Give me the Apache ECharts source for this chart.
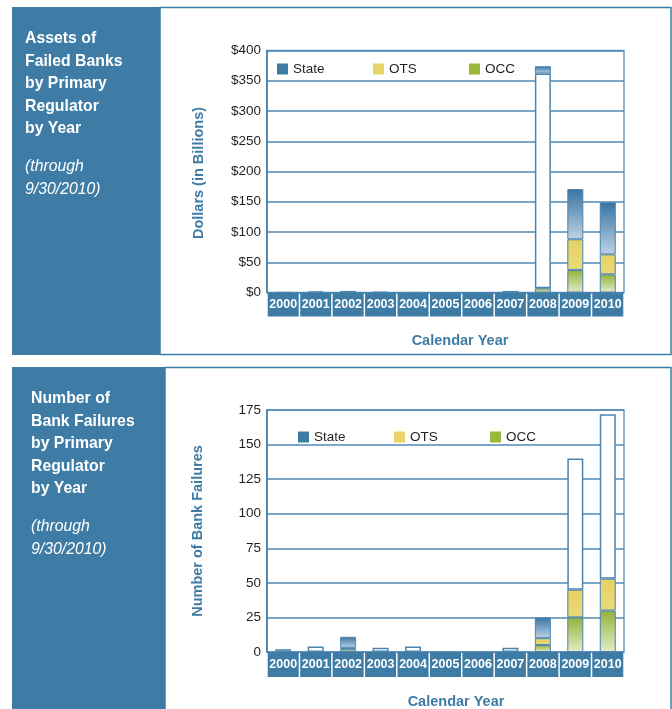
<!DOCTYPE html>
<html>
<head>
<meta charset="utf-8">
<script src="https://cdn.jsdelivr.net/npm/echarts@6/dist/echarts.min.js"></script>
<style>
  html, body { margin: 0; padding: 0; background: #ffffff; }
  #chart { width: 672px; height: 709px; }
</style>
</head>
<body>
<div id="chart"></div>
<script>
// Calendar years shared by both panels
const years = ['2000', '2001', '2002', '2003', '2004', '2005', '2006', '2007', '2008', '2009', '2010'];

// Assets of failed banks, $ billions, by primary regulator
const assetsOCC   = [0, 0, 0, 0, 0, 0, 0, 0, 7, 37, 30];
const assetsOTS   = [0, 0, 0, 0, 0, 0, 0, 0, 355, 51, 33];
const assetsState = [0.4, 1.8, 2.7, 1, 0.2, 0, 0, 2.6, 12, 83, 86];
const assetsOpenOTS = [8];            // OTS segments drawn as open (unfilled) boxes
const assetsOpenState = [1, 2, 3, 7];  // small State segments drawn open

// Number of bank failures by primary regulator
const countOCC   = [0, 0, 2, 0, 0, 0, 0, 0, 5, 25, 30];
const countOTS   = [0, 0, 1, 0, 0, 0, 0, 0, 5, 20, 23];
const countState = [2, 4, 8, 3, 4, 0, 0, 3, 15, 95, 119];
const countOpenState = [1, 3, 4, 7, 9, 10];

// Value-axis tick settings
const assetTicks = { max: 400, step: 50 };
const countTicks = { max: 175, step: 25 };

const BLUE = '#3e7ca6';
const SANS = '"Liberation Sans", Arial, Helvetica, sans-serif';

const grad = (top, bottom) => new echarts.graphic.LinearGradient(0, 0, 0, 1, [
  { offset: 0, color: top }, { offset: 1, color: bottom }
]);

const fills = {
  State: grad('#3873a2', '#bed3e5'),
  OTS: grad('#e5d262', '#ead97a'),
  OCC: grad('#93b23a', '#e4ecc8')
};
const openStyle = { color: '#ffffff', borderColor: '#4a84b0', borderWidth: 1.5 };

function items(values, openIdx) {
  return values.map((v, i) => {
    if (!v) return '-';
    return openIdx && openIdx.includes(i) ? { value: v, itemStyle: openStyle } : v;
  });
}

function barSeries(name, values, openIdx, axis) {
  return {
    name: name,
    type: 'bar',
    stack: 'regulator' + axis,
    xAxisIndex: axis,
    yAxisIndex: axis,
    barWidth: 16,
    data: items(values, openIdx),
    itemStyle: { color: fills[name], borderColor: '#4a84b0', borderWidth: 1 },
    emphasis: { disabled: true },
    animation: false
  };
}

function catAxis(grid, bandH) {
  return {
    type: 'category', gridIndex: grid, data: years,
    axisLine: { show: false }, axisTick: { show: false },
    axisLabel: {
      interval: 0, margin: 0, color: '#ffffff', fontWeight: 'bold', fontSize: 12.5,
      fontFamily: SANS, backgroundColor: BLUE, width: 31, height: bandH,
      lineHeight: bandH, align: 'center', verticalAlign: 'top'
    }
  };
}

function valAxis(grid, ticks, fmt) {
  return {
    type: 'value', gridIndex: grid, min: 0, max: ticks.max, interval: ticks.step,
    axisLine: { show: true, lineStyle: { color: BLUE, width: 1.5 } },
    axisTick: { show: false },
    axisLabel: { color: '#231f20', fontSize: 13.5, fontFamily: SANS, margin: 6, formatter: fmt },
    splitLine: { lineStyle: { color: '#4f88b3', width: 1.5 } }
  };
}

function legendAt(left, top) {
  const mk = (n, c) => ({ name: n, itemStyle: { color: c, borderWidth: 0 } });
  return {
    left: left, top: top, padding: 0, itemWidth: 11, itemHeight: 11, itemGap: 5,
    icon: 'rect', selectedMode: false,
    textStyle: { fontSize: 13.5, fontFamily: SANS, color: '#231f20', width: 75, lineHeight: 11, padding: [0, 0, 0, 0] },
    data: [mk('State', '#3e7ca6'), mk('OTS', '#e8d56a'), mk('OCC', '#9ab83a')]
  };
}

function titleText(x, y, lines, italicLines) {
  return [
    { type: 'text', x: x, y: y, scaleX: 0.93, silent: true,
      style: { text: lines.join('\n'), fill: '#ffffff', font: 'bold 17px ' + SANS, lineHeight: 22.6 } },
    { type: 'text', x: x, y: y + 128, scaleX: 0.93, silent: true,
      style: { text: italicLines.join('\n'), fill: '#ffffff', font: 'italic 17px ' + SANS, lineHeight: 22.6 } }
  ];
}

function axisName(x, y, text, rotate) {
  return { type: 'text', x: x, y: y, rotation: rotate ? Math.PI / 2 : 0, silent: true,
    style: { text: text, fill: BLUE, font: 'bold 14.5px ' + SANS, textAlign: 'center', textVerticalAlign: 'middle' } };
}

const chart = echarts.init(document.getElementById('chart'), null, { renderer: 'canvas' });

chart.setOption({
  animation: false,
  graphic: [
    // panel frames
    { type: 'rect', shape: { x: 160, y: 7.5, width: 511, height: 347 }, silent: true, z: -10,
      style: { fill: '#ffffff', stroke: BLUE, lineWidth: 1.5 } },
    { type: 'rect', shape: { x: 165, y: 367.5, width: 506, height: 360 }, silent: true, z: -10,
      style: { fill: '#ffffff', stroke: BLUE, lineWidth: 1.5 } },
    // side bars
    { type: 'rect', shape: { x: 12, y: 7, width: 148, height: 348 }, silent: true, z: -9, style: { fill: BLUE } },
    { type: 'rect', shape: { x: 12, y: 367, width: 153, height: 350 }, silent: true, z: -9, style: { fill: BLUE } },
    ...titleText(25, 27, ['Assets of', 'Failed Banks', 'by Primary', 'Regulator', 'by Year'], ['(through', '9/30/2010)']),
    ...titleText(31, 387, ['Number of', 'Bank Failures', 'by Primary', 'Regulator', 'by Year'], ['(through', '9/30/2010)']),
    axisName(199, 173, 'Dollars (in Billions)', true),
    axisName(198, 531, 'Number of Bank Failures', true),
    axisName(460, 341, 'Calendar Year', false),
    axisName(456, 702, 'Calendar Year', false)
  ],
  legend: [legendAt(277, 62), legendAt(298, 430)],
  grid: [
    { left: 267, top: 50.5, width: 357, height: 242, show: true, borderColor: '#6d9cc2', borderWidth: 1.5, backgroundColor: 'transparent' },
    { left: 267, top: 410, width: 357, height: 242, show: true, borderColor: '#6d9cc2', borderWidth: 1.5, backgroundColor: 'transparent' }
  ],
  xAxis: [catAxis(0, 24), catAxis(1, 25)],
  yAxis: [valAxis(0, assetTicks, v => '$' + v), valAxis(1, countTicks, v => String(v))],
  series: [
    barSeries('OCC', assetsOCC, null, 0),
    barSeries('OTS', assetsOTS, assetsOpenOTS, 0),
    barSeries('State', assetsState, assetsOpenState, 0),
    barSeries('OCC', countOCC, null, 1),
    barSeries('OTS', countOTS, null, 1),
    barSeries('State', countState, countOpenState, 1)
  ]
});
</script>
</body>
</html>
